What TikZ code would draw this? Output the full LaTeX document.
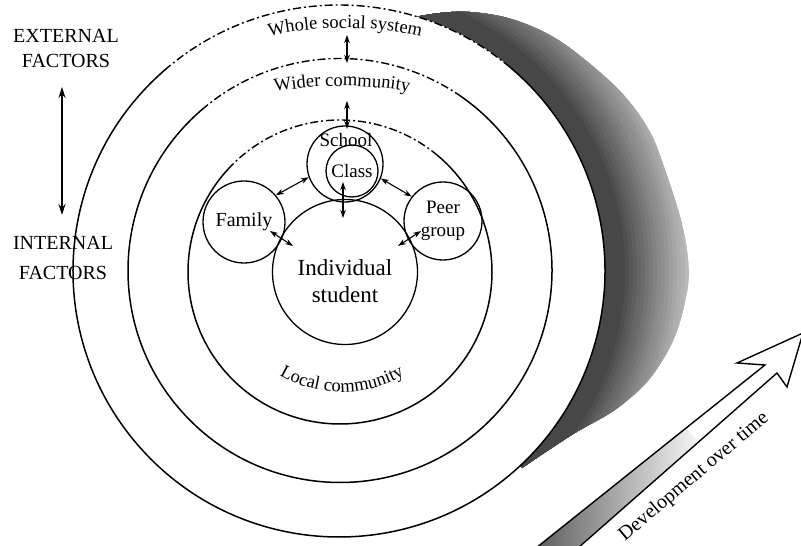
\documentclass[tikz,border=0pt]{standalone}
\usepackage{fontspec}
\setmainfont{Liberation Serif}
\usetikzlibrary{arrows.meta,decorations.text,calc}
\begin{document}
\begin{tikzpicture}[x=1pt,y=1pt,
  ring/.style={line width=1.5pt},
  topdash/.style={line width=1.4pt, dash pattern=on 8pt off 3pt on 2pt off 3pt},
  bubble/.style={circle, draw, line width=1.3pt, inner sep=0pt},
  dbl/.style={{Stealth[length=8pt,width=5.5pt]}-{Stealth[length=8pt,width=5.5pt]}, line width=1.1pt},
  bigdbl/.style={{Stealth[length=11pt,width=7pt]}-{Stealth[length=11pt,width=7pt]}, line width=1.2pt},
  lbl/.style={align=center, inner sep=0pt},
]
\useasboundingbox (0,0) rectangle (801,546);

% shadow crescent
\begin{scope}
  \clip plot[smooth, tension=0.7] coordinates {(415,529) (470,534) (533,519) (590,482)
     (640,430) (667,370) (687,295) (684,240) (662,185) (624,143) (570,110) (522,78)}
     -- (339,275) -- cycle;
  \foreach \i in {0,...,24}{
    \pgfmathtruncatemacro\shd{min(72,16+2.8*\i)}
    \fill[black!\shd] (339,275) circle[radius={366-4*\i}];
  }
\end{scope}
\fill[white] (339,275) circle[radius=266];

% big arrow
\begin{scope}
  \clip (536,-2) -- (765,181) -- (777,173) -- (578,-2) -- cycle;
  \begin{scope}[shift={(557,0)}, rotate=39.4]
    \shade[left color=black!70, right color=white] (-30,-25) rectangle (175,25);
  \end{scope}
\end{scope}
\draw[line width=1.4pt, line join=miter] (536,-2) -- (765,181) -- (737,183) -- (803,213) -- (787,159) -- (777,173) -- (578,-2);

% rings
\draw[ring] (339,275) ++(130:266) arc[start angle=130, end angle=410, radius=266];
\draw[topdash] (339,275) ++(50:266) arc[start angle=50, end angle=130, radius=266];
\draw[ring] (340,275.5) ++(130:212) arc[start angle=130, end angle=415, radius=212];
\draw[topdash] (340,275.5) ++(55:212) arc[start angle=55, end angle=130, radius=212];
\draw[ring] (340,274) ++(135:152) arc[start angle=135, end angle=410, radius=152];
\draw[topdash] (340,274) ++(50:152) arc[start angle=50, end angle=135, radius=152];

% inner circles
\node[bubble, minimum size=145pt] (ind) at (345,274) {};
\node[lbl, font=\fontsize{23}{27}\selectfont] (indt) at (345,265) {Individual\\student};
\node[bubble, minimum size=76pt] (school) at (345,382) {};
\node[lbl, font=\fontsize{19}{22}\selectfont] (schoolt) at (346,406) {School};
\node[bubble, minimum size=52pt, font=\fontsize{19}{22}\selectfont] (class) at (352,375) {Class};
\node[bubble, minimum size=82pt, font=\fontsize{20}{22}\selectfont] (family) at (244,324) {Family};
\node[bubble, minimum size=78pt, align=center, font=\fontsize{19}{23}\selectfont] (peer) at (443,325) {Peer\\group};

% ring labels
\path[decorate, decoration={text along path, text align=center,
  text={|\fontsize{18.5}{20}\selectfont|Whole social system}}]
  ($(345,168)+(112:350)$) arc[start angle=112, end angle=68, radius=350];
\path[decorate, decoration={text along path, text align=center,
  text={|\fontsize{18.5}{20}\selectfont|Wider community}}]
  ($(342,60)+(105:400)$) arc[start angle=105, end angle=75, radius=400];
\path[decorate, decoration={text along path, text align=center,
  text={|\fontsize{18.5}{20}\selectfont|Local community}}]
  ($(342,279)+(225:125)$) arc[start angle=225, end angle=315, radius=125];

% factor labels
\node[lbl, font=\fontsize{20}{25}\selectfont] (ext) at (66,497) {EXTERNAL\\FACTORS};
\node[lbl, font=\fontsize{20}{30}\selectfont] (int) at (63,288) {INTERNAL\\FACTORS};
\coordinate (ef) at (62,459);
\coordinate (if) at (62,331);
\draw[bigdbl] (ef) -- (if);

% connectors
\coordinate (ws1) at (347,511); \coordinate (ws2) at (347,483);
\coordinate (wc1) at (347,445); \coordinate (wc2) at (347,417);
\coordinate (ci1) at (343,364); \coordinate (ci2) at (343,328);
\coordinate (fi1) at (270,315); \coordinate (fi2) at (293,300);
\coordinate (pi1) at (398,300); \coordinate (pi2) at (421,315);
\draw[dbl] (ws1) -- (ws2);
\draw[dbl] (wc1) -- (wc2);
\draw[dbl] (ci1) -- (ci2);
\draw[dbl] (fi1) -- (fi2);
\draw[dbl] (pi1) -- (pi2);
\draw[dbl] (family.40) -- (school.200);
\draw[dbl] (school.-22) -- (peer.142);

% development label
\node[rotate=40, inner sep=0pt, font=\fontsize{20}{22}\selectfont] (dev) at (694,69) {Development over time};
\end{tikzpicture}
\end{document}
